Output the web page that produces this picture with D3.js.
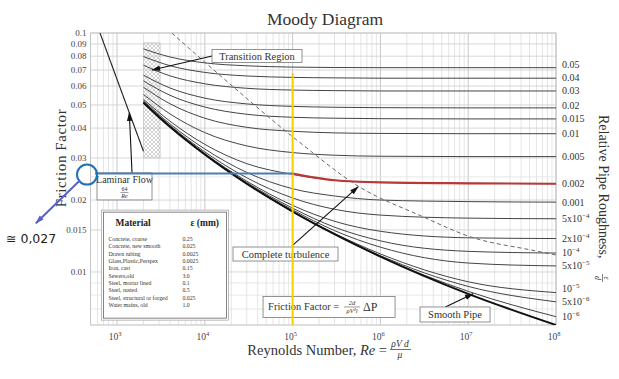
<!DOCTYPE html>
<html>
<head>
<meta charset="utf-8">
<script src="https://cdn.jsdelivr.net/npm/d3@7"></script>
<style>
  body { margin: 0; background: #fff; }
  svg { font-family: "Liberation Serif", "DejaVu Serif", serif; }
</style>
</head>
<body>
<svg id="chart" width="619" height="379"></svg>
<script>
// ---- data ----
var reSamples = [2000, 4000, 1e4, 3e4, 1e5, 3e5, 1e6, 1e7, 1e8];

var roughness = ["0.05", "0.04", "0.03", "0.02", "0.015", "0.01", "0.005", "0.002",
                 "0.001", "5e-4", "2e-4", "1e-4", "5e-5", "1e-5", "5e-6", "1e-6"];
var roughBase = ["0.05", "0.04", "0.03", "0.02", "0.015", "0.01", "0.005", "0.002",
                 "0.001", "5x10", "2x10", "10", "5x10", "10", "5x10", "10"];
var roughExp  = ["", "", "", "", "", "", "", "", "", "\u22124", "\u22124", "\u22124", "\u22125", "\u22125", "\u22126", "\u22126"];

var f005   = [0.0858, 0.0794, 0.0750, 0.0729, 0.0720, 0.0717, 0.0716, 0.0716, 0.0716];
var f004   = [0.0797, 0.0730, 0.0684, 0.0661, 0.0652, 0.0649, 0.0647, 0.0647, 0.0647];
var f003   = [0.0733, 0.0662, 0.0613, 0.0587, 0.0577, 0.0574, 0.0572, 0.0572, 0.0572];
var f002   = [0.0666, 0.0589, 0.0534, 0.0505, 0.0493, 0.0489, 0.0487, 0.0486, 0.0486];
var f0015  = [0.0630, 0.0549, 0.0490, 0.0457, 0.0444, 0.0440, 0.0438, 0.0437, 0.0437];
var f001   = [0.0593, 0.0506, 0.0440, 0.0403, 0.0388, 0.0382, 0.0380, 0.0379, 0.0379];
var f0005  = [0.0553, 0.0459, 0.0383, 0.0337, 0.0316, 0.0308, 0.0305, 0.0304, 0.0304];
var f0002  = [0.0528, 0.0428, 0.0342, 0.0284, 0.0256, 0.0242, 0.0237, 0.0235, 0.0234];
var f0001  = [0.0520, 0.0417, 0.0327, 0.0261, 0.0223, 0.0208, 0.0200, 0.0197, 0.0196];
var f5em4  = [0.0515, 0.0411, 0.0318, 0.0248, 0.0204, 0.0183, 0.0173, 0.0168, 0.0167];
var f2em4  = [0.0513, 0.0408, 0.0313, 0.0240, 0.0190, 0.0163, 0.0148, 0.0139, 0.0138];
var f1em4  = [0.0512, 0.0407, 0.0312, 0.0237, 0.0185, 0.0154, 0.0135, 0.0122, 0.0120];
var f5em5  = [0.0511, 0.0406, 0.0311, 0.0235, 0.0182, 0.0149, 0.0127, 0.0109, 0.0106];
var f1em5  = [0.0511, 0.0406, 0.0310, 0.0234, 0.0179, 0.0145, 0.0119, 0.0091, 0.0082];
var f5em6  = [0.0511, 0.0406, 0.0310, 0.0234, 0.0179, 0.0144, 0.0117, 0.0087, 0.0075];
var f1em6  = [0.0511, 0.0405, 0.0310, 0.0234, 0.0179, 0.0144, 0.0116, 0.0083, 0.0065];
var fSmooth = [0.0511, 0.0405, 0.0310, 0.0234, 0.0179, 0.0144, 0.0116, 0.0081, 0.0060];

var roughCurves = [f005, f004, f003, f002, f0015, f001, f0005, f0002,
                   f0001, f5em4, f2em4, f1em4, f5em5, f1em5, f5em6, f1em6];

var laminarRe = [640, 2000];
var laminarF = [0.1, 0.032];

var turbRe = [4200, 15600, 111000, 577000, 2.92e6, 1.08e7, 5.2e7, 1e8];
var turbF  = [0.1, 0.0655, 0.0357, 0.0227, 0.01715, 0.0140, 0.01236, 0.01178];

var transitionRe = [2000, 3100];
var transitionF = [0.030, 0.091];

var yTickVals = [0.01, 0.015, 0.02, 0.03, 0.04, 0.05, 0.06, 0.07, 0.08, 0.09, 0.1];
var yTickText = ["0.01", "0.015", "0.02", "0.03", "0.04", "0.05", "0.06", "0.07", "0.08", "0.09", "0.1"];
var xTickVals = [1e3, 1e4, 1e5, 1e6, 1e7, 1e8];
var xTickExp = ["3", "4", "5", "6", "7", "8"];

var materialNames = ["Concrete, coarse", "Concrete, new smooth", "Drawn tubing", "Glass,Plastic,Perspex",
                     "Iron, cast", "Sewers,old", "Steel, mortar lined", "Steel, rusted",
                     "Steel, structural or forged", "Water mains, old"];
var materialEps = ["0.25", "0.025", "0.0025", "0.0025", "0.15", "3.0", "0.1", "0.5", "0.025", "1.0"];

var markedRe = 1e5;     // yellow line
var readF = 0.0258;     // blue reading

// ---- chart ----
var svg = d3.select("#chart");
var plotL = 90.6, plotR = 556, plotT = 33, plotB = 325;

var x = d3.scaleLog().domain([500, 1e8]).range([plotL, plotR]);
var y = d3.scaleLog().domain([0.006, 0.1]).range([plotB, plotT]);

var defs = svg.append("defs");
defs.append("clipPath").attr("id", "plotclip")
  .append("rect").attr("x", plotL).attr("y", plotT).attr("width", plotR - plotL).attr("height", plotB - plotT);

var hatch = defs.append("pattern").attr("id", "hatch").attr("patternUnits", "userSpaceOnUse")
  .attr("width", 4).attr("height", 4);
hatch.append("path").attr("d", "M0,4 L4,0 M0,0 L4,4").attr("stroke", "#b4b4b4").attr("stroke-width", 0.6);

function marker(id, color) {
  defs.append("marker").attr("id", id).attr("viewBox", "0 0 10 6")
    .attr("refX", 9).attr("refY", 3).attr("markerWidth", 9).attr("markerHeight", 6)
    .attr("markerUnits", "userSpaceOnUse").attr("orient", "auto")
    .append("path").attr("d", "M0,0 L10,3 L0,6 z").attr("fill", color);
}
marker("arr", "#111");
marker("arrBlue", "#5a60c8");

// grid
var grid = svg.append("g");
x.ticks().forEach(function (t) {
  var major = Math.abs(Math.log10(t) - Math.round(Math.log10(t))) < 1e-9;
  grid.append("line").attr("x1", x(t)).attr("x2", x(t)).attr("y1", plotT).attr("y2", plotB)
    .attr("stroke", major ? "#c8c8c8" : "#dedede").attr("stroke-width", major ? 1 : 0.8);
});
y.ticks().concat([0.015, 0.025]).forEach(function (t) {
  var labeled = yTickVals.some(function (v) { return Math.abs(v - t) < 1e-9; });
  grid.append("line").attr("x1", plotL).attr("x2", plotR).attr("y1", y(t)).attr("y2", y(t))
    .attr("stroke", labeled ? "#cdcdcd" : "#e2e2e2").attr("stroke-width", 0.8);
});
svg.append("rect").attr("x", plotL).attr("y", plotT).attr("width", plotR - plotL).attr("height", plotB - plotT)
  .attr("fill", "none").attr("stroke", "#bdbdbd").attr("stroke-width", 0.8);

// transition band
svg.append("rect")
  .attr("x", x(transitionRe[0])).attr("y", y(transitionF[1]))
  .attr("width", x(transitionRe[1]) - x(transitionRe[0]))
  .attr("height", y(transitionF[0]) - y(transitionF[1]))
  .attr("fill", "url(#hatch)").attr("stroke", "#c4c4c4").attr("stroke-width", 0.6);

var line = d3.line().x(function (d) { return x(d[0]); }).y(function (d) { return y(d[1]); })
  .curve(d3.curveMonotoneX);
var straight = d3.line().x(function (d) { return x(d[0]); }).y(function (d) { return y(d[1]); });
var plot = svg.append("g").attr("clip-path", "url(#plotclip)");

function pairs(re, f) { return re.map(function (r, i) { return [r, f[i]]; }); }

roughCurves.forEach(function (fs) {
  plot.append("path").attr("d", line(pairs(reSamples, fs)))
    .attr("fill", "none").attr("stroke", "#444").attr("stroke-width", 1);
});
plot.append("path").attr("d", line(pairs(reSamples, fSmooth)))
  .attr("fill", "none").attr("stroke", "#111").attr("stroke-width", 2);

plot.append("path").attr("d", straight(pairs(laminarRe, laminarF)))
  .attr("fill", "none").attr("stroke", "#222").attr("stroke-width", 1.1);

plot.append("path").attr("d", line(pairs(turbRe, turbF)))
  .attr("fill", "none").attr("stroke", "#666").attr("stroke-width", 1).attr("stroke-dasharray", "4,3");

// right-hand roughness labels, nudged apart where they would collide
var labelY = roughCurves.map(function (fs) { return y(fs[fs.length - 1]); });
for (var i = labelY.length - 2; i >= 0; i--) {
  if (labelY[i + 1] - labelY[i] < 13) labelY[i] = labelY[i + 1] - 13;
}
roughCurves.forEach(function (fs, i) {
  var t = svg.append("text").attr("x", plotR + 6).attr("y", labelY[i] + 3.5)
    .attr("font-size", 10).attr("fill", "#333").text(roughBase[i]);
  if (roughExp[i]) t.append("tspan").attr("dy", -4).attr("font-size", 7).text(roughExp[i]);
});

// axis labels
yTickVals.forEach(function (v, i) {
  svg.append("text").attr("x", plotL - 4).attr("y", y(v) + 3).attr("text-anchor", "end")
    .attr("font-size", 9).attr("fill", "#444").text(yTickText[i]);
});
xTickVals.forEach(function (v, i) {
  var t = svg.append("text").attr("x", x(v) - 2).attr("y", 340).attr("text-anchor", "middle")
    .attr("font-size", 9.5).attr("fill", "#444").text("10");
  t.append("tspan").attr("dy", -4).attr("font-size", 6.5).text(xTickExp[i]);
});

svg.append("text").attr("x", 325).attr("y", 25).attr("text-anchor", "middle")
  .attr("font-size", 17.5).attr("fill", "#333").text("Moody Diagram");

var xt = svg.append("text").attr("x", 387).attr("y", 355).attr("text-anchor", "end")
  .attr("font-size", 14.5).attr("fill", "#333");
xt.append("tspan").text("Reynolds Number, ");
xt.append("tspan").attr("font-style", "italic").text("Re");
xt.append("tspan").text(" = ");
svg.append("text").attr("x", 400).attr("y", 347).attr("text-anchor", "middle").attr("font-size", 9.5)
  .attr("font-style", "italic").attr("fill", "#333").text("\u03c1V d");
svg.append("line").attr("x1", 390).attr("x2", 411).attr("y1", 349.5).attr("y2", 349.5)
  .attr("stroke", "#333").attr("stroke-width", 0.7);
svg.append("text").attr("x", 400).attr("y", 358).attr("text-anchor", "middle").attr("font-size", 9.5)
  .attr("font-style", "italic").attr("fill", "#333").text("\u03bc");

svg.append("text").attr("transform", "translate(66,158) rotate(-90)").attr("text-anchor", "middle")
  .attr("font-size", 15).attr("letter-spacing", 0.6).attr("fill", "#333").text("Friction Factor");

var rt = svg.append("g").attr("transform", "translate(599,115) rotate(90)");
rt.append("text").attr("x", 0).attr("y", 0).attr("font-size", 14).attr("fill", "#333")
  .text("Relative Pipe Roughness,");
rt.append("text").attr("x", 163).attr("y", -5).attr("text-anchor", "middle").attr("font-size", 8)
  .attr("font-style", "italic").attr("fill", "#333").text("\u03b5");
rt.append("line").attr("x1", 159).attr("x2", 167).attr("y1", -3.5).attr("y2", -3.5)
  .attr("stroke", "#333").attr("stroke-width", 0.6);
rt.append("text").attr("x", 163).attr("y", 4).attr("text-anchor", "middle").attr("font-size", 8)
  .attr("font-style", "italic").attr("fill", "#333").text("d");

// ---- annotations ----
function labelBox(cx, cy, w, h) {
  return svg.append("rect").attr("x", cx - w / 2).attr("y", cy - h / 2).attr("width", w).attr("height", h)
    .attr("fill", "#fff").attr("stroke", "#777").attr("stroke-width", 0.8);
}
function arrow(x1, y1, x2, y2) {
  svg.append("line").attr("x1", x1).attr("y1", y1).attr("x2", x2).attr("y2", y2)
    .attr("stroke", "#111").attr("stroke-width", 1.1).attr("marker-end", "url(#arr)");
}

// transition region
arrow(x(12100), y(0.0801), x(2510), y(0.070));
labelBox(x(39300), y(0.0801), 90, 13);
svg.append("text").attr("x", x(39300)).attr("y", y(0.0801) + 3.5).attr("text-anchor", "middle")
  .attr("font-size", 10.5).attr("fill", "#333").text("Transition Region");

// laminar flow
arrow(x(1482), y(0.0259), x(1380), y(0.0464));
var lcx = 124.5, lcy = y(0.0228);
labelBox(lcx, lcy, 55, 27);
svg.append("text").attr("x", lcx).attr("y", lcy - 3).attr("text-anchor", "middle")
  .attr("font-size", 10).attr("fill", "#333").text("Laminar Flow");
svg.append("text").attr("x", lcx).attr("y", lcy + 4.5).attr("text-anchor", "middle")
  .attr("font-size", 6).attr("fill", "#333").text("64");
svg.append("line").attr("x1", lcx - 4).attr("x2", lcx + 4).attr("y1", lcy + 6).attr("y2", lcy + 6)
  .attr("stroke", "#333").attr("stroke-width", 0.5);
svg.append("text").attr("x", lcx).attr("y", lcy + 11.5).attr("text-anchor", "middle")
  .attr("font-size", 6).attr("font-style", "italic").attr("fill", "#333").text("Re");

// material table
var tx = x(700), ty = y(0.0178);
svg.append("rect").attr("x", tx - 2).attr("y", ty - 2).attr("width", 127).attr("height", 110)
  .attr("fill", "#fff").attr("stroke", "#aaa").attr("stroke-width", 0.8);
svg.append("rect").attr("x", tx).attr("y", ty).attr("width", 123).attr("height", 106)
  .attr("fill", "#fff").attr("stroke", "#666").attr("stroke-width", 0.8);
svg.append("text").attr("x", tx + 12).attr("y", ty + 14).attr("font-size", 9.5).attr("font-weight", "bold")
  .attr("fill", "#222").text("Material");
svg.append("text").attr("x", tx + 87).attr("y", ty + 14).attr("font-size", 9.5).attr("font-weight", "bold")
  .attr("fill", "#222").text("\u03b5 (mm)");
materialNames.forEach(function (n, i) {
  svg.append("text").attr("x", tx + 5).attr("y", ty + 29 + i * 7.33).attr("font-size", 5.8)
    .attr("fill", "#333").text(n);
  svg.append("text").attr("x", tx + 79).attr("y", ty + 29 + i * 7.33).attr("font-size", 5.8)
    .attr("fill", "#333").text(materialEps[i]);
});

// complete turbulence
arrow(x(98500), y(0.01285), x(5.56e5), y(0.0227));
labelBox(x(83000), y(0.01189), 105, 14);
svg.append("text").attr("x", x(83000)).attr("y", y(0.01189) + 3.5).attr("text-anchor", "middle")
  .attr("font-size", 10.5).attr("fill", "#333").text("Complete turbulence");

// friction factor definition
var fcx = x(2.6e5), fcy = y(0.00714);
labelBox(fcx, fcy, 132, 21);
svg.append("text").attr("x", fcx - 61).attr("y", fcy + 3.5).attr("font-size", 10.5).attr("fill", "#333")
  .text("Friction Factor =");
svg.append("text").attr("x", fcx + 23).attr("y", fcy - 1.5).attr("text-anchor", "middle").attr("font-size", 6.5)
  .attr("font-style", "italic").attr("fill", "#333").text("2d");
svg.append("line").attr("x1", fcx + 15).attr("x2", fcx + 31).attr("y1", fcy).attr("y2", fcy)
  .attr("stroke", "#333").attr("stroke-width", 0.5);
svg.append("text").attr("x", fcx + 23).attr("y", fcy + 6.5).attr("text-anchor", "middle").attr("font-size", 6.5)
  .attr("font-style", "italic").attr("fill", "#333").text("\u03c1V\u00b2l");
svg.append("text").attr("x", fcx + 34).attr("y", fcy + 4).attr("font-size", 12).attr("fill", "#333")
  .text("\u0394P");

// smooth pipe
arrow(x(5.5e6), y(0.00714), x(1.135e7), y(0.0081));
labelBox(x(7.08e6), y(0.00664), 70, 15);
svg.append("text").attr("x", x(7.08e6)).attr("y", y(0.00664) + 3.5).attr("text-anchor", "middle")
  .attr("font-size", 10.5).attr("fill", "#333").text("Smooth Pipe");

// ---- reading overlay: yellow Re line, blue reading, red curve ----
svg.append("line").attr("x1", x(markedRe)).attr("x2", x(markedRe)).attr("y1", y(0.068)).attr("y2", plotB)
  .attr("stroke", "#f2d000").attr("stroke-width", 2);

var redPts = pairs(reSamples, f0002).filter(function (d) { return d[0] >= markedRe; });
redPts[0] = [markedRe, readF];
plot.append("path").attr("d", line(redPts))
  .attr("fill", "none").attr("stroke", "#b83838").attr("stroke-width", 2.2);

var ccx = x(455), ccy = y(readF);
svg.append("line").attr("x1", ccx + 8).attr("x2", x(markedRe)).attr("y1", ccy).attr("y2", ccy)
  .attr("stroke", "#4a7db8").attr("stroke-width", 2);
svg.append("circle").attr("cx", ccx).attr("cy", ccy + 1).attr("r", 10)
  .attr("fill", "none").attr("stroke", "#1f72b8").attr("stroke-width", 2);
svg.append("line").attr("x1", x(379)).attr("y1", y(0.0242)).attr("x2", x(119)).attr("y2", y(0.016))
  .attr("stroke", "#5a60c8").attr("stroke-width", 2).attr("marker-end", "url(#arrBlue)");
svg.append("text").attr("x", 6).attr("y", 243).attr("font-family", "DejaVu Sans, sans-serif")
  .attr("font-size", 12.5).attr("fill", "#222").text("\u2245 0,027");
</script>
</body>
</html>
